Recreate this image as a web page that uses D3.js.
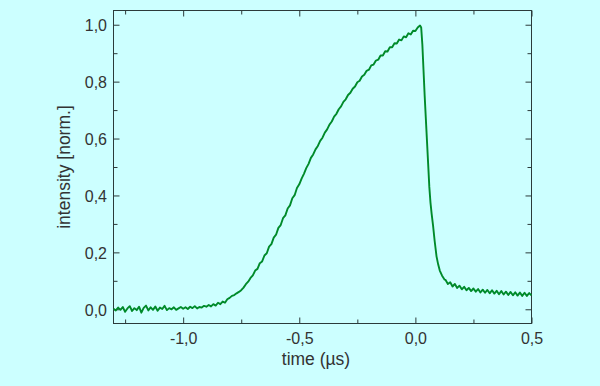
<!DOCTYPE html>
<html>
<head>
<meta charset="utf-8">
<script src="https://cdn.jsdelivr.net/npm/d3@7"></script>
<style>
  html, body { margin: 0; padding: 0; background: #ccffff; }
  svg { display: block; }
  text { font-family: "Liberation Sans", Arial, sans-serif; fill: #333; }
</style>
</head>
<body>
<svg id="chart" width="600" height="386"></svg>
<script>
// ---- data ----
const timeUs = [
  -1.30, -1.29, -1.28, -1.27, -1.26, -1.25, -1.24, -1.23, -1.22, -1.21,
  -1.20, -1.19, -1.18, -1.17, -1.16, -1.15, -1.14, -1.13, -1.12, -1.11,
  -1.10, -1.09, -1.08, -1.07, -1.06, -1.05, -1.04, -1.03, -1.02, -1.01,
  -1.00, -0.99, -0.98, -0.97, -0.96, -0.95, -0.94, -0.93, -0.92, -0.91,
  -0.90, -0.89, -0.88, -0.87, -0.86, -0.85, -0.84, -0.83, -0.82, -0.81,
  -0.80, -0.79, -0.78, -0.77, -0.76, -0.75, -0.74, -0.73, -0.72, -0.71,
  -0.70, -0.69, -0.68, -0.67, -0.66, -0.65, -0.64, -0.63, -0.62, -0.61,
  -0.60, -0.59, -0.58, -0.57, -0.56, -0.55, -0.54, -0.53, -0.52, -0.51,
  -0.50, -0.49, -0.48, -0.47, -0.46, -0.45, -0.44, -0.43, -0.42, -0.41,
  -0.40, -0.39, -0.38, -0.37, -0.36, -0.35, -0.34, -0.33, -0.32, -0.31,
  -0.30, -0.29, -0.28, -0.27, -0.26, -0.25, -0.24, -0.23, -0.22, -0.21,
  -0.20, -0.19, -0.18, -0.17, -0.16, -0.15, -0.14, -0.13, -0.12, -0.11,
  -0.10, -0.09, -0.08, -0.07, -0.06, -0.05, -0.04, -0.03, -0.02, -0.01,
  0.000, 0.010, 0.020, 0.025, 0.030, 0.035, 0.040, 0.045, 0.050, 0.055,
  0.060, 0.065, 0.070, 0.076, 0.083, 0.091, 0.098, 0.105, 0.115, 0.126,
  0.13, 0.14, 0.15, 0.16, 0.17, 0.18, 0.19, 0.20, 0.21, 0.22,
  0.23, 0.24, 0.25, 0.26, 0.27, 0.28, 0.29, 0.30, 0.31, 0.32,
  0.33, 0.34, 0.35, 0.36, 0.37, 0.38, 0.39, 0.40, 0.41, 0.42,
  0.43, 0.44, 0.45, 0.46, 0.47, 0.48, 0.49, 0.50
];
const intensity = [
  0.002, -0.004, 0.006, -0.002, 0.008, -0.009, 0.003, 0.011, -0.006, 0.004,
  -0.003, 0.009, -0.012, 0.005, 0.013, -0.004, 0.007, -0.002, 0.010, -0.005,
  0.006, 0.001, 0.012, -0.003, 0.004, 0.000, 0.007, -0.002, 0.003, 0.008,
  0.002, 0.007, 0.001, 0.009, 0.004, 0.011, 0.003, 0.008, 0.006, 0.012,
  0.009, 0.015, 0.010, 0.018, 0.013, 0.023, 0.018, 0.027, 0.023, 0.035,
  0.040, 0.047, 0.050, 0.056, 0.061, 0.067, 0.076, 0.088, 0.097, 0.110,
  0.119, 0.136, 0.142, 0.162, 0.168, 0.189, 0.197, 0.220, 0.229, 0.252,
  0.262, 0.286, 0.296, 0.320, 0.330, 0.354, 0.365, 0.390, 0.401, 0.426,
  0.439, 0.459, 0.476, 0.496, 0.511, 0.532, 0.544, 0.562, 0.574, 0.592,
  0.603, 0.621, 0.632, 0.649, 0.660, 0.677, 0.687, 0.703, 0.713, 0.729,
  0.738, 0.753, 0.761, 0.775, 0.783, 0.798, 0.803, 0.818, 0.824, 0.838,
  0.842, 0.857, 0.860, 0.874, 0.877, 0.892, 0.892, 0.907, 0.906, 0.921,
  0.921, 0.935, 0.934, 0.948, 0.945, 0.959, 0.956, 0.970, 0.966, 0.979,
  0.978, 0.990, 0.997, 0.990, 0.930, 0.840, 0.750, 0.670, 0.590, 0.510,
  0.430, 0.375, 0.335, 0.295, 0.240, 0.186, 0.158, 0.136, 0.118, 0.104,
  0.103, 0.089, 0.095, 0.080, 0.089, 0.075, 0.083, 0.070, 0.079, 0.067,
  0.075, 0.064, 0.073, 0.062, 0.071, 0.059, 0.069, 0.058, 0.068, 0.056,
  0.067, 0.055, 0.065, 0.053, 0.064, 0.052, 0.062, 0.050, 0.061, 0.049,
  0.060, 0.048, 0.059, 0.047, 0.058, 0.047, 0.057, 0.049
];
const xMajorTicks = [-1.0, -0.5, 0.0, 0.5];
const xMinorTicks = [-1.25, -0.75, -0.25, 0.25];
const yMajorTicks = [0.0, 0.2, 0.4, 0.6, 0.8, 1.0];
const yMinorTicks = [0.1, 0.3, 0.5, 0.7, 0.9];
const xDomain = [-1.3, 0.5];
const yDomain = [-0.05, 1.05];
const xTitle = "time (µs)";
const yTitle = "intensity [norm.]";

// ---- layout ----
const L = 113.5, R = 531.5, T = 10.5, B = 323.5;
const svg = d3.select("#chart");
svg.append("rect").attr("width", 600).attr("height", 386).attr("fill", "#ccffff");

const x = d3.scaleLinear().domain(xDomain).range([L, R]);
const y = d3.scaleLinear().domain(yDomain).range([B, T]);
const fmt = v => d3.format(".1f")(v).replace(".", ",").replace("−", "-");

const axisColor = "#2b3a3a";
const MAJ = 6, MIN = 4;

function addAxis(axisGen, tx, ty, values, size, labels) {
  const g = svg.append("g").attr("transform", `translate(${tx},${ty})`)
    .call(axisGen.tickValues(values).tickSize(size).tickPadding(6)
      .tickFormat(labels ? fmt : () => ""));
  g.select(".domain").remove();
  g.selectAll(".tick line").attr("stroke", axisColor).attr("stroke-width", 1);
  return g;
}
// bottom (ticks inward => negative size)
const gb = addAxis(d3.axisBottom(x), 0, B, xMajorTicks, -MAJ, true);
gb.selectAll(".tick text").attr("y", 20.5).attr("dy", null)
  .style("font-size", "16px").style("fill", "#333");
addAxis(d3.axisBottom(x), 0, B, xMinorTicks, -MIN, false);
// top
addAxis(d3.axisTop(x), 0, T, xMajorTicks, -MAJ, false);
addAxis(d3.axisTop(x), 0, T, xMinorTicks, -MIN, false);
// left
const gl = addAxis(d3.axisLeft(y), L, 0, yMajorTicks, -MAJ, true);
gl.selectAll(".tick text").attr("x", -6.5).attr("dy", "0.36em")
  .style("font-size", "16px").style("fill", "#333");
addAxis(d3.axisLeft(y), L, 0, yMinorTicks, -MIN, false);
// right
addAxis(d3.axisRight(y), R, 0, yMajorTicks, -MAJ, false);
addAxis(d3.axisRight(y), R, 0, yMinorTicks, -MIN, false);

// frame
svg.append("rect").attr("x", L).attr("y", T).attr("width", R - L).attr("height", B - T)
  .attr("fill", "none").attr("stroke", axisColor).attr("stroke-width", 1);

// curve
const pts = timeUs.map((t, i) => [t, intensity[i]]);
svg.append("path").datum(pts)
  .attr("fill", "none").attr("stroke", "#008a2a").attr("stroke-width", 1.9)
  .attr("stroke-linejoin", "round")
  .attr("d", d3.line().x(d => x(d[0])).y(d => y(d[1])));

// titles
svg.append("text").attr("x", 316).attr("y", 365).attr("text-anchor", "middle")
  .style("font-size", "17.5px").text(xTitle);
svg.append("text").attr("transform", `translate(69.5,${(T + B) / 2}) rotate(-90)`)
  .attr("text-anchor", "middle").style("font-size", "17.5px").text(yTitle);
</script>
</body>
</html>
